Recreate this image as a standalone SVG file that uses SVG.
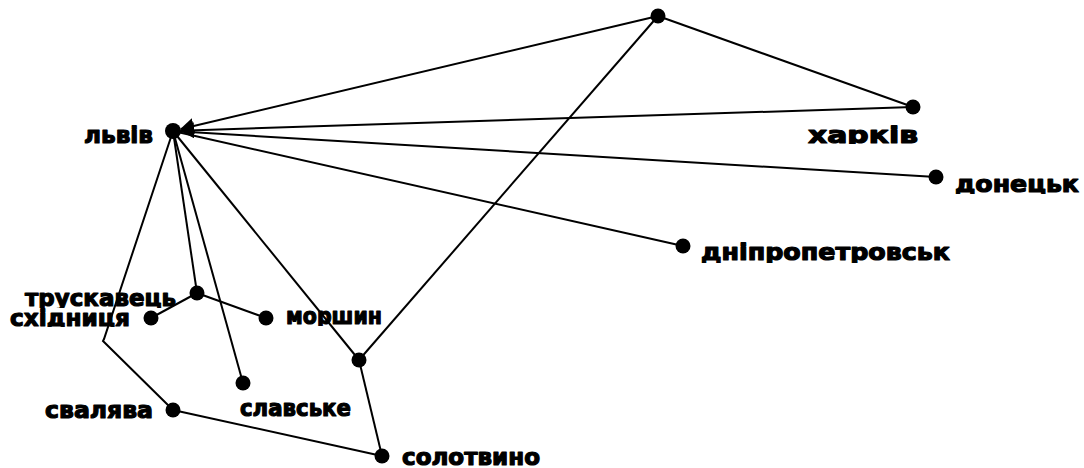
<svg xmlns="http://www.w3.org/2000/svg" width="1084" height="468" viewBox="0 0 1084 468">
<style>
.e{stroke:#000;stroke-width:2;fill:none}
.n{fill:#000}
.t{font-family:"DejaVu Sans",sans-serif;font-weight:bold;font-size:23px;fill:#000;stroke:#000;stroke-width:1.2;stroke-linejoin:round}
</style>
<defs>
<marker id="ar" markerUnits="userSpaceOnUse" markerWidth="14" markerHeight="16" refX="13" refY="8" orient="auto">
<path d="M0,0 L14,8 L0,16 z" fill="#000"/>
</marker>
<clipPath id="c1"><rect x="80" y="110" width="80" height="35"/></clipPath>
<clipPath id="c2"><rect x="800" y="110" width="130" height="34"/></clipPath>
<clipPath id="c3"><rect x="950" y="160" width="134" height="34"/></clipPath>
<clipPath id="c4"><rect x="695" y="230" width="260" height="33"/></clipPath>
<clipPath id="c5"><rect x="20" y="280" width="165" height="28"/></clipPath>
<clipPath id="c6"><rect x="5" y="308" width="130" height="19"/></clipPath>
<clipPath id="c7"><rect x="280" y="300" width="110" height="26"/></clipPath>
<clipPath id="c8"><rect x="235" y="395" width="125" height="23"/></clipPath>
<clipPath id="c9"><rect x="40" y="395" width="120" height="25"/></clipPath>
</defs>
<rect width="1084" height="468" fill="#fff"/>
<g id="edges">
<line class="e" x1="658" y1="16" x2="181" y2="129" marker-end="url(#ar)"/>
<line class="e" x1="913" y1="107" x2="181" y2="130.7" marker-end="url(#ar)"/>
<line class="e" x1="658" y1="16" x2="913" y2="107"/>
<line class="e" x1="173" y1="131" x2="936" y2="177"/>
<line class="e" x1="173" y1="131" x2="683" y2="246"/>
<line class="e" x1="658" y1="16" x2="359" y2="360"/>
<line class="e" x1="173" y1="131" x2="359" y2="360"/>
<line class="e" x1="173" y1="131" x2="197" y2="293"/>
<line class="e" x1="173" y1="131" x2="243" y2="383"/>
<polyline class="e" points="173,131 104,339 103,341 173,410"/>
<line class="e" x1="151" y1="318" x2="197" y2="293"/>
<line class="e" x1="197" y1="293" x2="266" y2="318"/>
<line class="e" x1="173" y1="410" x2="382" y2="456"/>
<line class="e" x1="359" y1="360" x2="382" y2="456"/>
</g>
<g id="top"><circle class="n" cx="658" cy="16" r="7.5"/></g>
<g id="lviv"><circle class="n" cx="173" cy="131" r="8"/><text class="t" x="84" y="143" textLength="69" lengthAdjust="spacingAndGlyphs" clip-path="url(#c1)">львів</text></g>
<g id="kharkiv"><circle class="n" cx="913" cy="107" r="7.5"/><text class="t" x="808" y="143" textLength="110" lengthAdjust="spacingAndGlyphs" clip-path="url(#c2)">харків</text></g>
<g id="donetsk"><circle class="n" cx="936" cy="177" r="7.5"/><text class="t" x="955" y="192" textLength="124" lengthAdjust="spacingAndGlyphs" clip-path="url(#c3)">донецьк</text></g>
<g id="dnipro"><circle class="n" cx="683" cy="246" r="7.5"/><text class="t" x="701" y="260" textLength="249" lengthAdjust="spacingAndGlyphs" clip-path="url(#c4)">дніпропетровськ</text></g>
<g id="truskavets"><circle class="n" cx="197" cy="293" r="7.5"/><text class="t" x="25" y="305.5" textLength="151" lengthAdjust="spacingAndGlyphs" clip-path="url(#c5)">трускавець</text></g>
<g id="skhidnytsia"><circle class="n" cx="151" cy="318" r="7.5"/><text class="t" x="10" y="325.5" textLength="120" lengthAdjust="spacingAndGlyphs" clip-path="url(#c6)">східниця</text></g>
<g id="morshyn"><circle class="n" cx="266" cy="318" r="7.5"/><text class="t" x="286" y="324" textLength="96" lengthAdjust="spacingAndGlyphs" clip-path="url(#c7)">моршин</text></g>
<g id="slavske"><circle class="n" cx="243" cy="383" r="7.5"/><text class="t" x="240" y="416" textLength="111" lengthAdjust="spacingAndGlyphs" clip-path="url(#c8)">славське</text></g>
<g id="svaliava"><circle class="n" cx="173" cy="410" r="7.5"/><text class="t" x="45" y="418" textLength="108" lengthAdjust="spacingAndGlyphs" clip-path="url(#c9)">свалява</text></g>
<g id="mid"><circle class="n" cx="359" cy="360" r="7.5"/></g>
<g id="solotvyno"><circle class="n" cx="382" cy="456" r="7.5"/><text class="t" x="402" y="464.5" textLength="138" lengthAdjust="spacingAndGlyphs">солотвино</text></g>
</svg>
